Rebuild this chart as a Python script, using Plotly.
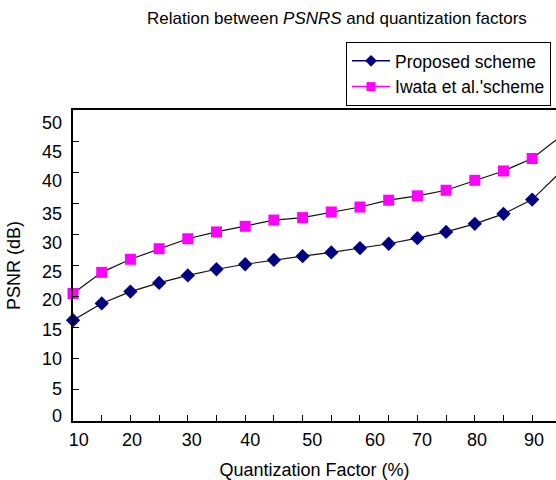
import plotly.graph_objects as go

# Data
quant_factor = [10, 15, 20, 25, 30, 35, 40, 45, 50, 55, 60, 65, 70, 75, 80, 85, 90, 95]
psnr_proposed = [16.2, 18.9, 20.8, 22.2, 23.4, 24.4, 25.2, 25.9, 26.5, 27.1, 27.8, 28.5,
                 29.4, 30.4, 31.7, 33.3, 35.6, 40.1]
psnr_iwata = [20.5, 23.9, 26.0, 27.7, 29.3, 30.4, 31.3, 32.3, 32.7, 33.6, 34.4, 35.5,
              36.2, 37.1, 38.7, 40.2, 42.2, 45.8]

x_tick_labels = ["10", "20", "30", "40", "50", "60", "70", "80", "90"]
x_label_pos = [11.0, 20.3, 30.7, 40.9, 51.7, 62.6, 70.8, 80.4, 90.3]
y_tick_marks = [0, 5, 10, 15, 20, 25, 30, 35, 40, 45, 50]
y_tick_labels = ["0", "5", "10", "15", "20", "25", "30", "35", "40", "45", "50"]
y_label_pos = [0.9, 5.2, 10.0, 14.7, 19.5, 24.0, 28.6, 33.4, 38.6, 43.3, 48.0]

FONT = "Liberation Sans, Arial, sans-serif"
X_RANGE = [10, 94.15]
Y_RANGE = [0, 50]

fig = go.Figure()

# Data traces (black connecting lines)
fig.add_trace(go.Scatter(
    x=quant_factor, y=psnr_proposed, mode="lines+markers", showlegend=False,
    line=dict(color="#111111", width=1.2),
    marker=dict(symbol="diamond", size=11, color="#000080"),
    cliponaxis=False,
))
fig.add_trace(go.Scatter(
    x=quant_factor, y=psnr_iwata, mode="lines+markers", showlegend=False,
    line=dict(color="#111111", width=1.2),
    marker=dict(symbol="square", size=11, color="#FF00FF"),
    cliponaxis=False,
))
# Legend-only traces
fig.add_trace(go.Scatter(
    x=[None], y=[None], mode="lines+markers", name="Proposed scheme",
    line=dict(color="#000080", width=1.5),
    marker=dict(symbol="diamond", size=9, color="#000080"),
))
fig.add_trace(go.Scatter(
    x=[None], y=[None], mode="lines+markers", name="Iwata et al.'scheme",
    line=dict(color="#FF00FF", width=1.5),
    marker=dict(symbol="square", size=9, color="#FF00FF"),
))
# Invisible trace on label axes
fig.add_trace(go.Scatter(x=[None], y=[None], xaxis="x2", yaxis="y2",
                         showlegend=False, hoverinfo="skip"))

fig.update_layout(
    width=556, height=480,
    margin=dict(l=73, r=0, t=110, b=59),
    paper_bgcolor="white", plot_bgcolor="white",
    font=dict(family=FONT, size=18, color="black"),
    title=dict(text="Relation between <i>PSNRS</i> and quantization factors",
               x=0.606, xanchor="center", y=0.962, yanchor="middle",
               font=dict(family=FONT, size=17, color="black")),
    xaxis=dict(range=X_RANGE, tickvals=quant_factor, showticklabels=False,
               ticks="inside", ticklen=6, tickcolor="black", tickwidth=1,
               showline=True, linecolor="black", linewidth=1.5, mirror=True,
               showgrid=False, zeroline=False,
               title=dict(text="Quantization Factor (%)", standoff=42,
                          font=dict(size=18))),
    yaxis=dict(range=Y_RANGE, tickvals=y_tick_marks, showticklabels=False,
               ticks="inside", ticklen=6, tickcolor="black", tickwidth=1,
               showline=True, linecolor="black", linewidth=1.5,
               showgrid=False, zeroline=False,
               title=dict(text="PSNR (dB)", standoff=46, font=dict(size=18))),
    xaxis2=dict(range=X_RANGE, overlaying="x", side="bottom", anchor="y",
                tickvals=x_label_pos, ticktext=x_tick_labels, ticks="",
                showline=False, showgrid=False, zeroline=False,
                ticklabelstandoff=6, tickfont=dict(size=18)),
    yaxis2=dict(range=Y_RANGE, overlaying="y", side="left", anchor="x",
                tickvals=y_label_pos, ticktext=y_tick_labels, ticks="",
                showline=False, showgrid=False, zeroline=False,
                ticklabelstandoff=10, tickfont=dict(size=18)),
    legend=dict(x=0.9897, xanchor="right", y=1.2187, yanchor="top",
                bgcolor="white", bordercolor="black", borderwidth=1,
                font=dict(size=17.5), tracegroupgap=0, itemwidth=38),
)

fig.write_html("out.html")
